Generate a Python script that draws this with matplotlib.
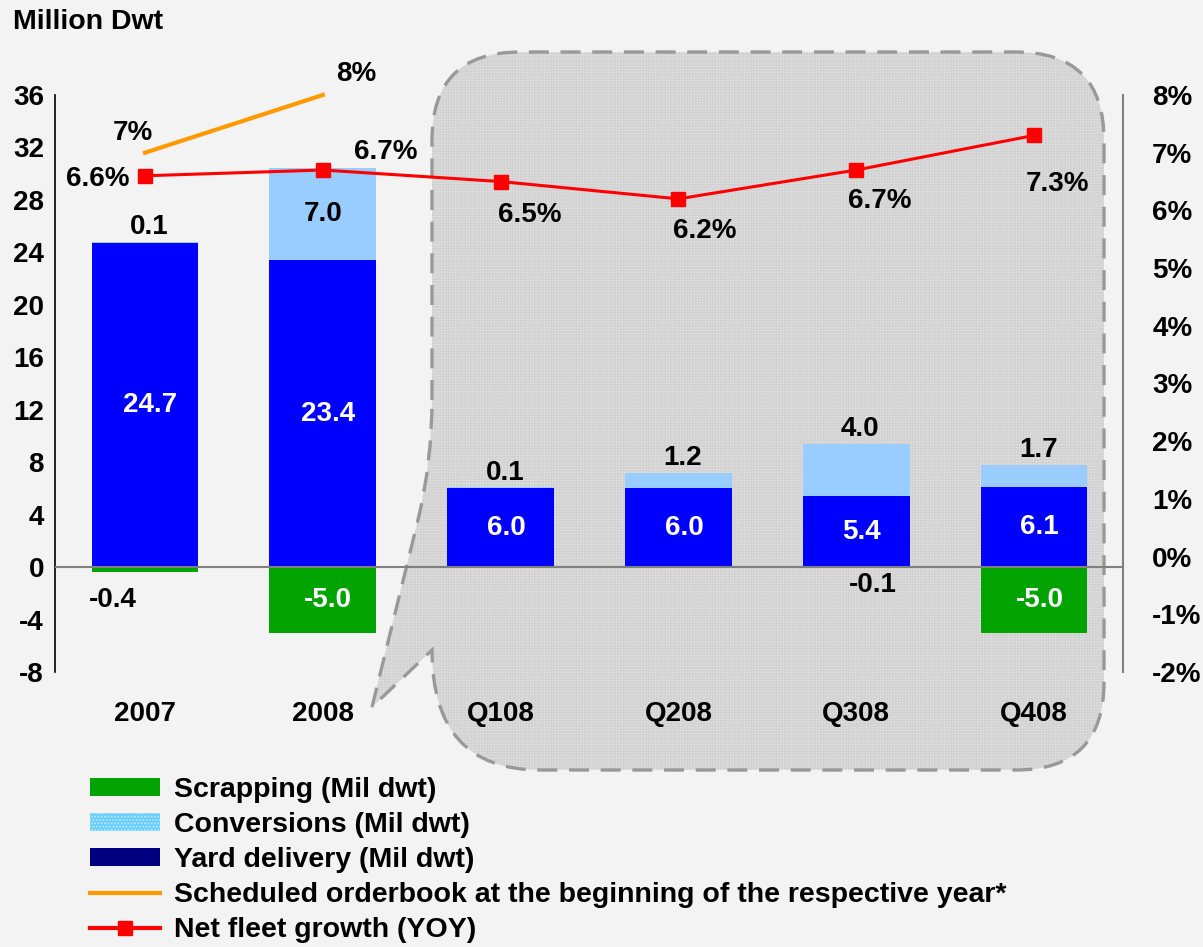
import numpy as np
import matplotlib.pyplot as plt
from matplotlib.path import Path
from matplotlib.patches import PathPatch, Patch
from matplotlib.lines import Line2D

plt.rcParams['font.family'] = ['Liberation Sans', 'DejaVu Sans']
plt.rcParams['font.weight'] = 'bold'
plt.rcParams['font.size'] = 20
plt.rcParams['axes.unicode_minus'] = False

# data
periods = ['2007', '2008', 'Q108', 'Q208', 'Q308', 'Q408']
yard = [24.7, 23.4, 6.0, 6.0, 5.4, 6.1]
conversions = [0.1, 7.0, 0.1, 1.2, 4.0, 1.7]
scrapping = [-0.4, -5.0, 0.0, 0.0, -0.1, -5.0]
net_growth = [6.6, 6.7, 6.5, 6.2, 6.7, 7.3]
orderbook_x = ['2007', '2008']
orderbook = [7, 8]

C_GREEN = '#00a300'
C_LIGHT = '#99ccff'
C_BLUE = '#0000ff'
C_NAVY = '#000080'
C_RED = '#ff0000'
C_ORANGE = '#ff9900'

W, H = 1203, 947
fig = plt.figure(figsize=(W / 100, H / 100), dpi=100, facecolor='#f3f3f3')

# callout bubble behind the quarterly bars (pixel coords, y from top)
def px(x, y):
    return (x / W, 1 - y / H)

verts = [px(432, 400), px(432, 140), px(432, 52), px(520, 52), px(1016, 52),
         px(1104, 52), px(1104, 140), px(1104, 682), px(1104, 770), px(1016, 770),
         px(540, 770), px(432, 770), px(432, 650), px(372, 707), px(418, 520),
         px(432, 462), px(432, 400), px(432, 400)]
codes = [Path.MOVETO, Path.LINETO, Path.CURVE3, Path.CURVE3, Path.LINETO,
         Path.CURVE3, Path.CURVE3, Path.LINETO, Path.CURVE3, Path.CURVE3,
         Path.LINETO, Path.CURVE3, Path.CURVE3, Path.LINETO, Path.LINETO,
         Path.CURVE3, Path.CURVE3, Path.CLOSEPOLY]
bubble = Path(verts, codes)
fig.patches.append(PathPatch(bubble, transform=fig.transFigure, facecolor='#e4e4e4',
                             edgecolor='#d2d2d2', hatch='++++++', lw=0, zorder=-2))
fig.patches.append(PathPatch(bubble, transform=fig.transFigure, fill=False,
                             edgecolor='#999999', lw=2.4, linestyle=(0, (6, 3.5)),
                             zorder=-1))

ax = fig.add_axes([55 / W, 1 - 672 / H, (1123 - 55) / W, (672 - 95) / H])
ax.patch.set_alpha(0)
x = np.arange(len(periods))
bw = 0.6

ax.bar(x, yard, bw, color=C_BLUE, zorder=2)
ax.bar(x, conversions, bw, bottom=yard, color=C_LIGHT, zorder=2)
ax.bar(x, scrapping, bw, color=C_GREEN, zorder=2)
ax.axhline(0, color='#808080', lw=1.5, zorder=3)

ax.set_xlim(-0.506, len(periods) - 0.5)
ax.set_ylim(-8, 36)
ax.set_yticks(np.arange(-8, 37, 4))
ax.set_xticks(x)
ax.set_xticklabels(periods)
ax.tick_params(axis='y', length=0, pad=8)
ax.tick_params(axis='x', length=0, pad=21)
for s in ['top', 'bottom', 'right']:
    ax.spines[s].set_visible(False)
ax.spines['left'].set_color('black')
ax.spines['left'].set_linewidth(1.2)

fig.text(13 / W, 1 - 22 / H, 'Million Dwt', ha='left', va='center', fontsize=20.5)

# yard delivery labels (white, centred in bar)
for i, v in enumerate(yard):
    ax.annotate(f'{v:.1f}', (i, v / 2), xytext=(4, 0), textcoords='offset points',
                ha='center', va='center', color='white', zorder=5)

# conversion labels
for i, v in enumerate(conversions):
    top = yard[i] + v
    if v >= 5:
        ax.annotate(f'{v:.1f}', (i, yard[i] + v / 2), ha='center', va='center', zorder=5)
    else:
        ax.annotate(f'{v:.1f}', (i, top), xytext=(3, 1), textcoords='offset points',
                    ha='center', va='bottom', zorder=5)

# scrapping labels
scrap_off = {0: (-23, -20), 4: (12, -12)}
for i, v in enumerate(scrapping):
    if v == 0:
        continue
    if v <= -2:
        ax.annotate(f'{v:.1f}', (i, v / 2), xytext=(4, 0), textcoords='offset points',
                    ha='center', va='center', color='white', zorder=5)
    else:
        ax.annotate(f'{v:.1f}', (i, v), xytext=scrap_off[i], textcoords='offset points',
                    ha='center', va='center', zorder=5)

ax2 = ax.twinx()
ax2.set_ylim(-2, 8)
ax2.set_yticks(np.arange(-2, 9, 1))
ax2.set_yticklabels([f'{t}%' for t in range(-2, 9)])
ax2.tick_params(axis='y', length=0, pad=21)
for s in ['top', 'bottom', 'left']:
    ax2.spines[s].set_visible(False)
ax2.spines['right'].set_color('#808080')
ax2.spines['right'].set_linewidth(1.5)

ob_x = [periods.index(p) for p in orderbook_x]
ax2.plot(ob_x, orderbook, color=C_ORANGE, lw=3, zorder=4, clip_on=False)
ob_off = [(-9, 14), (24, 15)]
for xi, v, off in zip(ob_x, orderbook, ob_off):
    ax2.annotate(f'{v}%', (xi, v), xytext=off, textcoords='offset points',
                 ha='center', va='center')

ax2.plot(x, net_growth, color=C_RED, lw=2.2, marker='s', markersize=10, zorder=4)
ng_off = [(-34, -2), (45, 13), (21, -24), (19, -23), (17, -22), (17, -35)]
for i, (v, off) in enumerate(zip(net_growth, ng_off)):
    ax2.annotate(f'{v}%', (i, v), xytext=off, textcoords='offset points',
                 ha='center', va='center')

handles = [
    Patch(facecolor=C_GREEN, lw=0),
    Patch(facecolor='#66ccff', edgecolor='#b8ecff', hatch='.....', lw=0),
    Patch(facecolor=C_NAVY, lw=0),
    Line2D([], [], color=C_ORANGE, lw=3),
    Line2D([], [], color=C_RED, lw=3, marker='s', markersize=10),
]
labels = ['Scrapping (Mil dwt)', 'Conversions (Mil dwt)', 'Yard delivery (Mil dwt)',
          'Scheduled orderbook at the beginning of the respective year*',
          'Net fleet growth (YOY)']
fig.legend(handles, labels, loc='upper left', bbox_to_anchor=(90 / W, 1 - 777 / H),
           frameon=False, handlelength=2.45, handleheight=0.6, handletextpad=0.5,
           labelspacing=0.32, fontsize=20.5, borderaxespad=0, borderpad=0)

fig.savefig('out.png', dpi=100, facecolor=fig.get_facecolor())
